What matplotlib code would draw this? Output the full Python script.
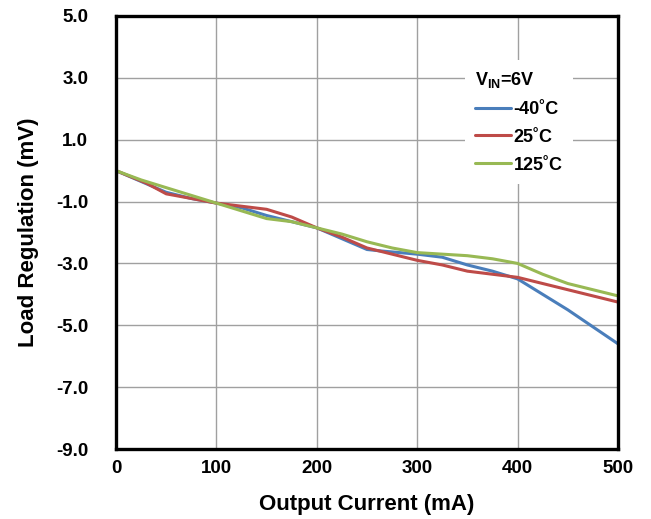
import matplotlib
matplotlib.use("Agg")
import matplotlib.pyplot as plt

plt.rcParams['font.family'] = ['Liberation Sans', 'DejaVu Sans']
plt.rcParams['font.weight'] = 'bold'
plt.rcParams['mathtext.fontset'] = 'custom'
plt.rcParams['mathtext.rm'] = 'Liberation Sans:bold'
plt.rcParams['mathtext.it'] = 'Liberation Sans:bold'
plt.rcParams['mathtext.bf'] = 'Liberation Sans:bold'

# Data (Output current mA, Load regulation mV)
x_m40 = [0, 25, 50, 75, 100, 125, 150, 175, 200, 225, 250, 265, 300, 325, 350, 375, 400, 450, 500]
y_m40 = [0.0, -0.35, -0.7, -0.9, -1.05, -1.2, -1.45, -1.65, -1.85, -2.2, -2.55, -2.6, -2.7, -2.8, -3.05, -3.25, -3.5, -4.5, -5.6]

x_25 = [0, 15, 30, 50, 75, 100, 125, 150, 175, 200, 225, 250, 275, 300, 325, 350, 375, 400, 450, 500]
y_25 = [0.0, -0.2, -0.4, -0.75, -0.9, -1.05, -1.15, -1.25, -1.5, -1.85, -2.15, -2.5, -2.7, -2.9, -3.05, -3.25, -3.35, -3.45, -3.85, -4.25]

x_125 = [0, 25, 50, 75, 100, 125, 150, 175, 200, 225, 250, 275, 300, 325, 350, 375, 400, 425, 450, 500]
y_125 = [0.0, -0.3, -0.55, -0.8, -1.05, -1.3, -1.55, -1.65, -1.85, -2.05, -2.3, -2.5, -2.65, -2.7, -2.75, -2.85, -3.0, -3.35, -3.65, -4.05]

labels = ["-40˚C", "25˚C", "125˚C"]
colors = ["#4a7ebb", "#be4b48", "#98b954"]

xticks = [0, 100, 200, 300, 400, 500]
yticks = [5.0, 3.0, 1.0, -1.0, -3.0, -5.0, -7.0, -9.0]

fig = plt.figure(figsize=(6.51, 5.19), dpi=100)
ax = fig.add_axes([116/651, 70/519, 502/651, 433/519])

for xs, ys, lab, c in zip([x_m40, x_25, x_125], [y_m40, y_25, y_125], labels, colors):
    ax.plot(xs, ys, color=c, lw=2.2, label=lab, solid_capstyle='round')

ax.set_xlim(0, 500)
ax.set_ylim(-9, 5)
ax.set_xticks(xticks)
ax.set_yticks(yticks)
ax.set_yticklabels([f"{v:.1f}" for v in yticks])
ax.tick_params(axis='both', length=0, labelsize=13.5)
ax.tick_params(axis='y', pad=20)
ax.tick_params(axis='x', pad=8)
ax.grid(True, color='#a0a0a0', lw=1.0)
ax.set_axisbelow(True)
for s in ax.spines.values():
    s.set_linewidth(2.4)
    s.set_color('black')

ax.set_xlabel("Output Current (mA)", fontsize=16, fontweight='bold', labelpad=12)
ax.set_ylabel("Load Regulation (mV)", fontsize=16, fontweight='bold', labelpad=12)

leg = ax.legend(loc='upper left', bbox_to_anchor=(0.695, 0.898), frameon=True,
                title=r"V$_{\rm IN}$=6V", alignment='left',
                title_fontproperties={'size': 13, 'weight': 'bold'},
                prop={'size': 13, 'weight': 'bold'},
                handlelength=2.0, handletextpad=0.15, labelspacing=0.6,
                borderpad=0.55, borderaxespad=0, fancybox=False)
leg.get_frame().set_edgecolor('none')
leg.get_frame().set_facecolor('white')
leg.get_frame().set_alpha(1)

fig.savefig("out.png", dpi=100)
